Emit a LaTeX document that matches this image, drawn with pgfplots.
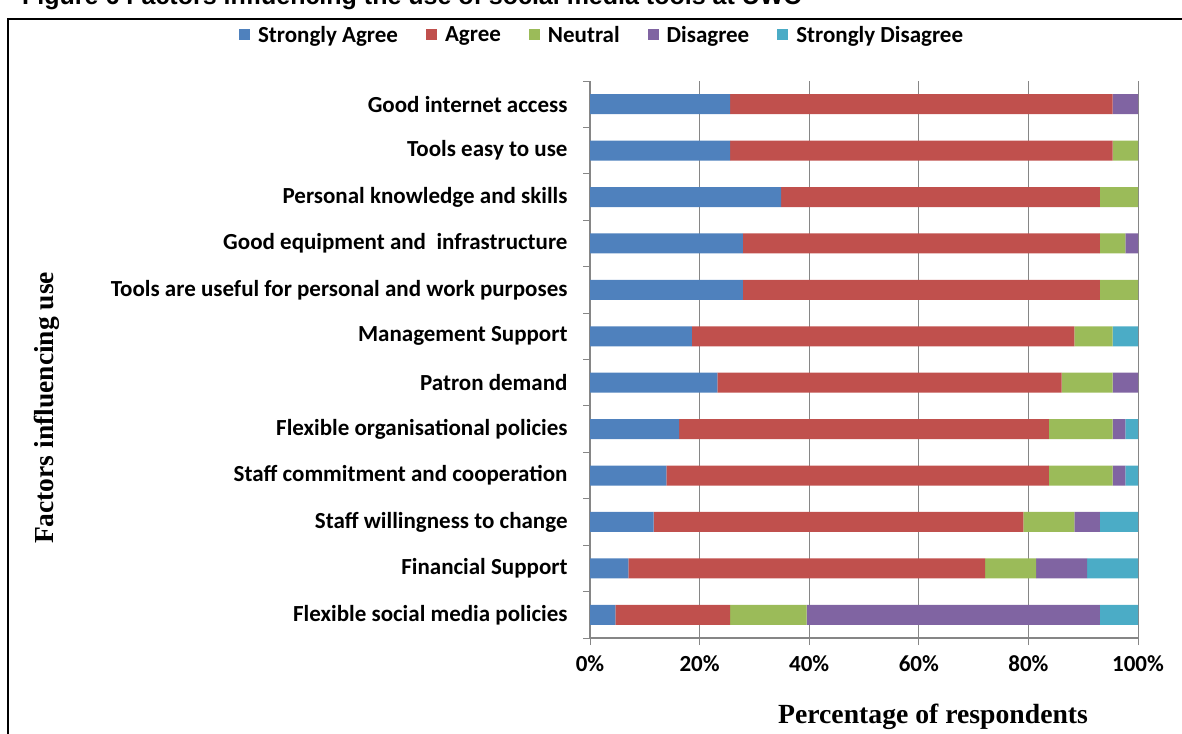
\documentclass[border=0pt]{standalone}
\usepackage{pgfplots}
\pgfplotsset{compat=1.18}
\usepackage{pgfplotstable}
\usepackage{fontspec}
\setmainfont{Carlito}
\newfontfamily\timesf{Liberation Serif}
\newfontfamily\arialf{Liberation Sans}
\definecolor{cSA}{HTML}{4F81BD}
\definecolor{cA}{HTML}{C0504D}
\definecolor{cN}{HTML}{9BBB59}
\definecolor{cD}{HTML}{8064A2}
\definecolor{cSD}{HTML}{4BACC6}
\definecolor{axgray}{HTML}{868686}

\pgfplotstableread{
y SA A N D SD
0 4.65 20.93 13.95 53.49 6.98
1 6.98 65.12 9.30 9.30 9.30
2 11.63 67.44 9.30 4.65 6.98
3 13.95 69.77 11.63 2.33 2.33
4 16.28 67.44 11.63 2.33 2.33
5 23.26 62.79 9.30 4.65 0
6 18.60 69.77 6.98 0 4.65
7 27.91 65.12 6.98 0 0
8 27.91 65.12 4.65 2.33 0
9 34.88 58.14 6.98 0 0
10 25.58 69.77 4.65 0 0
11 25.58 69.77 0 4.65 0
}\datatable

\begin{document}
\begin{tikzpicture}[x=1pt,y=1pt]
\clip (0,0) rectangle (1182,-733);
\node[anchor=base west, font=\arialf\bfseries\fontsize{25}{30}\selectfont, inner sep=0pt] at (22,-5) {Figure 6 Factors influencing the use of social media tools at UWC};
\draw[line width=2.5pt] (8,-740) -- (8,-19) -- (1190,-19);
\begin{axis}[
  at={(590pt,-638pt)}, anchor=south west,
  scale only axis, width=548pt, height=557pt,
  xbar stacked, bar width=20pt,
  xmin=0, xmax=100, ymin=-0.5, ymax=11.5,
  xtick={0,20,40,60,80,100},
  xticklabels={0\%,20\%,40\%,60\%,80\%,100\%},
  ytick={0,...,11},
  yticklabels={Flexible social media policies,Financial Support,Staff willingness to change,Staff commitment and cooperation,Flexible organisational policies,Patron demand,Management Support,Tools are useful for personal and work purposes,Good equipment and\ \ infrastructure,Personal knowledge and skills,Tools easy to use,Good internet access},
  minor ytick={-0.5,0.5,...,11.5},
  axis x line*=bottom, axis y line*=left,
  axis line style={draw=axgray, line width=1.2pt, -},
  xmajorgrids, grid style={draw=axgray, line width=1pt},
  tick align=outside,
  major tick length=7pt, minor tick length=7pt,
  major y tick style={draw=none},
  minor y tick style={draw=axgray, line width=1pt},
  major x tick style={draw=axgray, line width=1pt},
  tick label style={font=\bfseries\fontsize{23}{27}\selectfont, text=black},
  yticklabel style={xshift=-12pt},
  xticklabel style={yshift=-7pt},
  xlabel={Percentage of respondents},
  xlabel style={font=\timesf\bfseries\fontsize{27.7}{32}\selectfont, at={(axis description cs:0.626,0)}, anchor=center, yshift=-79pt},
  ylabel={Factors influencing use},
  ylabel style={font=\timesf\bfseries\fontsize{27.5}{32}\selectfont, at={(axis description cs:-0.991,0.413)}, anchor=center},
  legend columns=5,
  legend style={at={(axis description cs:0.022,1.0826)}, anchor=center, draw=none, fill=none,
    font=\bfseries\fontsize{23}{27}\selectfont,
    /tikz/every odd column/.append style={column sep=6pt},
    /tikz/every even column/.append style={column sep=26pt}},
  legend image code/.code={\path[#1, draw=none] (0pt,-5.5pt) rectangle (11pt,5.5pt);},
]
\addplot[fill=cSA, draw=none] table[x=SA, y=y] {\datatable};
\addplot[fill=cA, draw=none] table[x=A, y=y] {\datatable};
\addplot[fill=cN, draw=none] table[x=N, y=y] {\datatable};
\addplot[fill=cD, draw=none] table[x=D, y=y] {\datatable};
\addplot[fill=cSD, draw=none] table[x=SD, y=y] {\datatable};
\legend{Strongly Agree, Agree, Neutral, Disagree, Strongly Disagree}
\end{axis}
\end{tikzpicture}
\end{document}
